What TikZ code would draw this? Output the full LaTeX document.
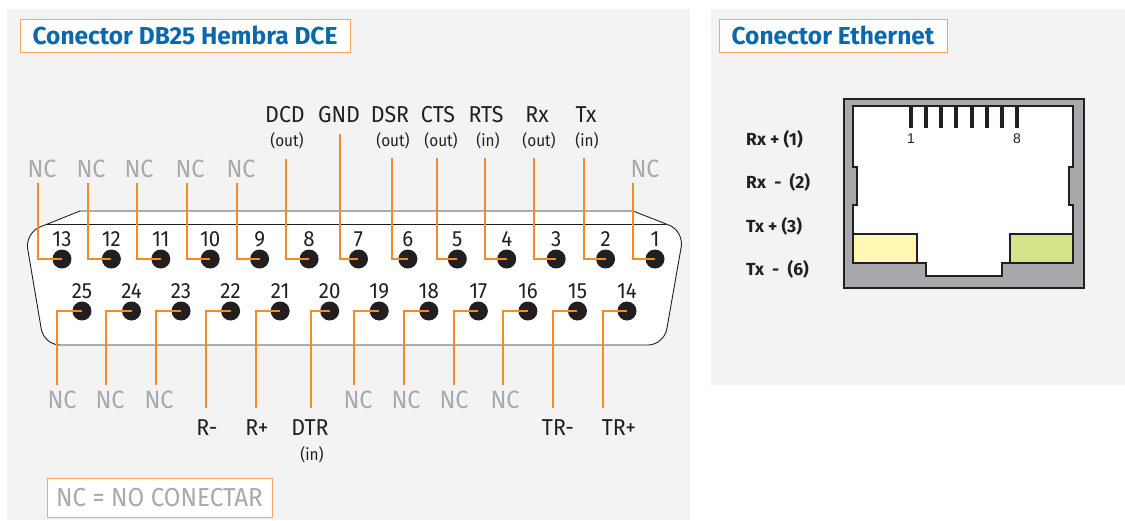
\documentclass[tikz,border=0pt]{standalone}
\usepackage{fontspec}
\setmainfont{Fira Sans}[FakeStretch=0.93]
\newfontfamily\headfont{Fira Sans}
\newfontfamily\arialfont{Liberation Sans}
\definecolor{panelgray}{HTML}{F3F3F3}
\definecolor{wireorange}{HTML}{F68A28}
\definecolor{boxorange}{HTML}{F6A660}
\definecolor{titleblue}{HTML}{0A68AC}
\definecolor{ncgray}{HTML}{A7A9AC}
\definecolor{pinblack}{HTML}{231F20}
\definecolor{rjgray}{HTML}{A7A9AC}
\definecolor{ledyellow}{HTML}{FFF7B2}
\definecolor{ledgreen}{HTML}{D5E28A}
\usetikzlibrary{positioning}

\begin{document}
\begin{tikzpicture}[x=1pt, y=-1pt,
    pin/.style={circle, fill=pinblack, minimum size=19pt, inner sep=0pt},
    num/.style={font=\fontsize{22}{22}\selectfont, text=pinblack, inner sep=0pt},
    wire/.style={draw=wireorange, line width=1.8pt},
    nc/.style={font=\fontsize{25}{25}\selectfont, text=ncgray, inner sep=0pt, anchor=base},
    sig/.style={font=\fontsize{23}{23}\selectfont, text=pinblack, inner sep=0pt, anchor=base},
    dir/.style={font=\fontsize{16.5}{17}\selectfont, text=pinblack, inner sep=0pt, anchor=base},
    titlebox/.style={draw=boxorange, line width=1pt, fill=white, minimum height=33pt,
      text=titleblue, font=\headfont\bfseries\fontsize{24.5}{25}\selectfont},
    rjlabel/.style={font=\headfont\bfseries\fontsize{17.5}{18}\selectfont, text=pinblack,
      inner sep=0pt, anchor=base west}]
  \useasboundingbox (0,0) rectangle (1125,520);
  % Panels
  \fill[panelgray] (7,9) rectangle (690,520);
  \fill[panelgray] (711,9) rectangle (1125,385);
  \node[titlebox, minimum width=330pt] (dbtitle) at (185,35.5) {Conector DB25 Hembra DCE};
  \node[titlebox, minimum width=228pt] (ethtitle) at (833,35.5) {Conector Ethernet};

  % DB25 shell
  \draw[pinblack, line width=0.9pt, fill=white] (80,211) -- (633,211)
    [rounded corners=16pt] -- (684,231) -- (664,345) -- (44,345) -- (25,233)
    [sharp corners] -- cycle;
  \coordinate (rimL) at (47,224);
  \coordinate (rimR) at (666,224);
  \draw[pinblack, line width=0.9pt] (rimL) -- (rimR);

  % Pins
  \foreach \n in {1,...,13}
    \node[pin] (p\n) at ({655-(\n-1)*49.42},259) {};
  \foreach \n in {14,...,25}
    \node[pin] (p\n) at ({627-(\n-14)*49.55},311) {};
  \foreach \n in {1,...,25}
    \node[num, above=2.5pt of p\n] (n\n) {\n};

  % Wires
  \foreach \n/\x/\y in {13/38/183, 12/88/183, 11/137/183, 10/187/183, 9/237/183,
      8/286/159, 7/340/134, 6/392/158, 5/437/158, 4/485/158, 3/534/158, 2/584/158,
      1/633/183, 25/57/385, 24/106/385, 23/156/385, 22/206/408, 21/256/408,
      20/311/408, 19/354/385, 18/404/385, 17/454/385, 16/503/385, 15/553/408,
      14/603/408} {
    \coordinate (w\n) at (\x,\y);
    \draw[wire] (p\n.center) -| (w\n);
  }

  % Signal names
  \foreach \n/\x in {13/42, 12/91, 11/139, 10/190, 9/241, 1/645}
    \node[nc] (s\n) at (\x,177) {NC};
  \foreach \n/\x in {25/62, 24/110, 23/159, 19/358, 18/406, 17/454, 16/505}
    \node[nc] (s\n) at (\x,408) {NC};
  \foreach \n/\x/\t in {8/285/DCD, 7/339/GND, 6/390/DSR, 5/438/CTS, 4/486/RTS,
      3/537/Rx, 2/586/Tx}
    \node[sig] (s\n) at (\x,122) {\t};
  \foreach \n/\x/\t in {8/287/out, 6/393/out, 5/441/out, 4/488/in, 3/539/out, 2/587/in}
    \node[dir] (d\n) at (\x,146) {(\t)};
  \foreach \n/\x/\t in {22/207/R-, 21/257/R+, 20/310/DTR, 15/558/TR-, 14/619/TR+}
    \node[sig] (s\n) at (\x,435) {\t};
  \node[dir] (d20) at (312,460) {(in)};

  % Legend
  \node[draw=boxorange, line width=1pt, fill=white, minimum width=225pt, minimum height=39pt,
    text=ncgray, font=\fontsize{26}{26}\selectfont] (legend) at (159.5,497.5) {NC = NO CONECTAR};

  % RJ45 jack
  \draw[pinblack, line width=1.2pt, fill=rjgray] (844,99) rectangle (1084,288);
  \draw[pinblack, line width=1.2pt, fill=white] (853,106) -- (1073,106) -- (1073,167)
    -- (1069,167) -- (1069,205) -- (1073,205) -- (1073,263) -- (1002,263) -- (1002,276)
    -- (926,276) -- (926,263) -- (853,263) -- (853,205) -- (857,205) -- (857,167)
    -- (853,167) -- cycle;
  \draw[pinblack, line width=1.2pt, fill=ledyellow] (853,234) rectangle (917,263);
  \draw[pinblack, line width=1.2pt, fill=ledgreen] (1010,234) rectangle (1073,263);
  \foreach \i in {1,...,8}
    \draw[pinblack, line width=4pt] ({911+(\i-1)*15.14},106) -- ++(0,22);
  \node[font=\arialfont\fontsize{14}{14}\selectfont, text=pinblack] (c1) at (911,138.5) {1};
  \node[font=\arialfont\fontsize{14}{14}\selectfont, text=pinblack] (c8) at (1017,138.5) {8};
  \node[rjlabel] (rx1) at (746,145) {Rx + (1)};
  \node[rjlabel] (rx2) at (746,188) {Rx \ - \ (2)};
  \node[rjlabel] (tx3) at (746,232) {Tx + (3)};
  \node[rjlabel] (tx6) at (746,275) {Tx \ - \ (6)};
\end{tikzpicture}
\end{document}
